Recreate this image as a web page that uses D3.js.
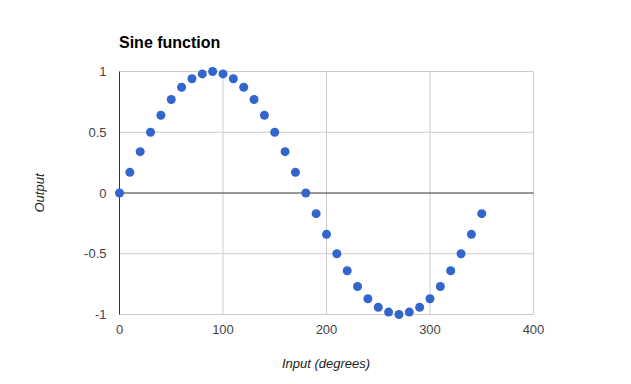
<!DOCTYPE html>
<html>
<head>
<meta charset="utf-8">
<script src="https://cdn.jsdelivr.net/npm/d3@7"></script>
<style>
  body { margin: 0; background: #fff; }
  text { font-family: Arial, "Liberation Sans", sans-serif; }
</style>
</head>
<body>
<div class="chart"></div>
<script>
var inputs = [0,10,20,30,40,50,60,70,80,90,100,110,120,130,140,150,160,170,
  180,190,200,210,220,230,240,250,260,270,280,290,300,310,320,330,340,350];
var outputs = [0,0.17,0.34,0.5,0.64,0.77,0.87,0.94,0.98,1,0.98,0.94,0.87,0.77,0.64,0.5,0.34,0.17,
  0,-0.17,-0.34,-0.5,-0.64,-0.77,-0.87,-0.94,-0.98,-1,-0.98,-0.94,-0.87,-0.77,-0.64,-0.5,-0.34,-0.17];
var xTicks = [0,100,200,300,400];
var yTicks = [-1,-0.5,0,0.5,1];

var width = 631, height = 384;
var plotLeft = 119.5, plotRight = 533.5, plotTop = 71.5, plotBottom = 314.5;

var svg = d3.select('.chart').append('svg').attr('width', width).attr('height', height);

var x = d3.scaleLinear().domain([0, 400]).range([plotLeft, plotRight]);
var y = d3.scaleLinear().domain([-1, 1]).range([plotBottom, plotTop]);

// gridlines
svg.selectAll('.vgrid').data(xTicks.filter(function(d){ return d > 0; })).enter().append('line')
  .attr('x1', function(d){ return x(d); }).attr('x2', function(d){ return x(d); })
  .attr('y1', plotTop).attr('y2', plotBottom)
  .attr('stroke', '#cccccc').attr('stroke-width', 1);

svg.selectAll('.hgrid').data(yTicks.filter(function(d){ return d !== 0; })).enter().append('line')
  .attr('x1', plotLeft).attr('x2', plotRight)
  .attr('y1', function(d){ return y(d); }).attr('y2', function(d){ return y(d); })
  .attr('stroke', '#cccccc').attr('stroke-width', 1);

// baselines
svg.append('line').attr('x1', plotLeft).attr('x2', plotRight).attr('y1', y(0)).attr('y2', y(0))
  .attr('stroke', '#333').attr('stroke-width', 1);
svg.append('line').attr('x1', x(0)).attr('x2', x(0)).attr('y1', plotTop).attr('y2', plotBottom)
  .attr('stroke', '#333').attr('stroke-width', 1);

// tick labels
svg.selectAll('.xlab').data(xTicks).enter().append('text')
  .attr('x', function(d){ return x(d); }).attr('y', plotBottom + 19)
  .attr('text-anchor', 'middle').attr('font-size', 13).attr('fill', '#444')
  .text(function(d){ return d; });

svg.selectAll('.ylab').data(yTicks).enter().append('text')
  .attr('x', plotLeft - 13).attr('y', function(d){ return y(d) + 4.5; })
  .attr('text-anchor', 'end').attr('font-size', 13).attr('fill', '#444')
  .text(function(d){ return d; });

// points
svg.selectAll('.pt').data(inputs).enter().append('circle')
  .attr('cx', function(d){ return x(d); })
  .attr('cy', function(d, i){ return y(outputs[i]); })
  .attr('r', 4.5).attr('fill', '#3366cc');

// titles
svg.append('text').attr('x', 119).attr('y', 48).attr('font-size', 16).attr('font-weight', 'bold')
  .attr('fill', '#000').text('Sine function');

svg.append('text').attr('x', 326).attr('y', 368).attr('text-anchor', 'middle')
  .attr('font-size', 13).attr('font-style', 'italic').attr('fill', '#222').text('Input (degrees)');

svg.append('text').attr('transform', 'translate(44,' + y(0) + ') rotate(-90)')
  .attr('text-anchor', 'middle').attr('font-size', 13).attr('font-style', 'italic')
  .attr('fill', '#222').text('Output');
</script>
</body>
</html>
